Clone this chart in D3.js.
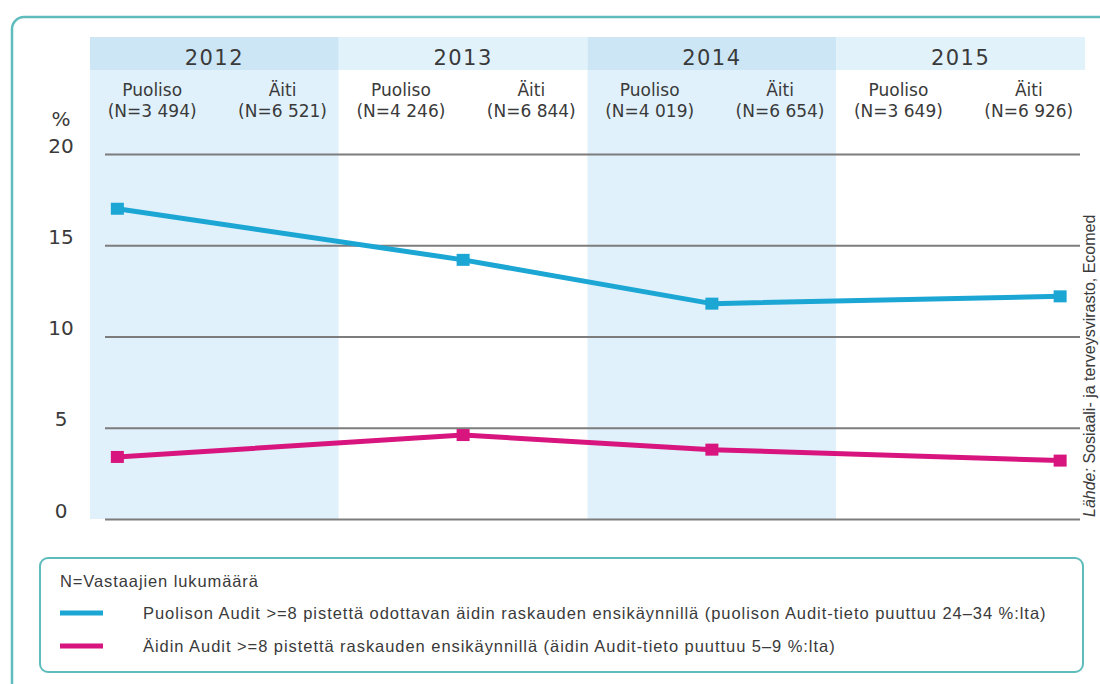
<!DOCTYPE html>
<html>
<head>
<meta charset="utf-8">
<script src="https://cdn.jsdelivr.net/npm/d3@7"></script>
<style>
  body { margin: 0; background: #ffffff; }
  svg { display: block; }
  text { font-family: "Liberation Sans", Arial, sans-serif; fill: #3a3a3a; }
  .hd { font-family: "DejaVu Sans", sans-serif; }
</style>
</head>
<body>
<svg id="chart" width="1100" height="684"></svg>
<script>
// data
const years = ["2012", "2013", "2014", "2015"];
const groups = ["Puoliso", "Äiti"];
const nPuoliso = ["3 494", "4 246", "4 019", "3 649"];
const nAiti = ["6 521", "6 844", "6 654", "6 926"];
const puoliso = [17.0, 14.2, 11.8, 12.2];
const aiti = [3.4, 4.6, 3.8, 3.2];
const yTicks = [0, 5, 10, 15, 20];
const legendNote = "N=Vastaajien lukumäärä";
const seriesNames = [
  "Puolison Audit >=8 pistettä odottavan äidin raskauden ensikäynnillä (puolison Audit-tieto puuttuu 24–34 %:lta)",
  "Äidin Audit >=8 pistettä raskauden ensikäynnillä (äidin Audit-tieto puuttuu 5–9 %:lta)"
];

// layout
const markerPos = [0.11, 0.5, 0.5, 0.9]; // where the point sits inside each year column
const colors = ["#1ba6d4", "#d8157e"];
const svg = d3.select("#chart");

const x = d3.scaleBand().domain(years).range([90, 1085]).padding(0);
const sub = d3.scaleBand().domain(groups).range([0, x.bandwidth()]);
const y = d3.scaleLinear().domain([0, 20]).range([519, 154]);

// outer frame
svg.append("rect")
  .attr("x", 12).attr("y", 17).attr("width", 1110).attr("height", 720)
  .attr("rx", 12)
  .attr("fill", "#fff").attr("stroke", "#5fbcbc").attr("stroke-width", 2.5);

// column shading
svg.selectAll(".col").data(years).join("rect")
  .attr("x", d => x(d)).attr("y", 70)
  .attr("width", x.bandwidth()).attr("height", y(0) - 70)
  .attr("fill", (d, i) => i % 2 === 0 ? "#e0f1fb" : "#ffffff");

svg.selectAll(".yearcell").data(years).join("rect")
  .attr("x", d => x(d)).attr("y", 37)
  .attr("width", x.bandwidth()).attr("height", 33)
  .attr("fill", (d, i) => i % 2 === 0 ? "#cde6f6" : "#e2f2fb");

svg.selectAll(".yearlabel").data(years).join("text")
  .attr("class", "hd")
  .attr("x", d => x(d) + x.bandwidth() / 2).attr("y", 65)
  .attr("text-anchor", "middle")
  .attr("font-size", 21).attr("letter-spacing", 1.5).attr("fill", "#333")
  .text(d => d);

// sub headers
years.forEach((yr, i) => {
  const ns = [nPuoliso[i], nAiti[i]];
  groups.forEach((g, j) => {
    const cx = x(yr) + sub(g) + sub.bandwidth() / 2 + (j === 1 ? 6 : 0);
    svg.append("text").attr("class", "hd").attr("x", cx).attr("y", 96)
      .attr("text-anchor", "middle").attr("font-size", 17)
      .text(g);
    svg.append("text").attr("class", "hd").attr("x", cx).attr("y", 117)
      .attr("text-anchor", "middle").attr("font-size", 17)
      .text("(N=" + ns[j] + ")");
  });
});

// gridlines + y labels
const yAxis = d3.axisLeft(y).tickValues(yTicks).tickSize(-975).tickPadding(0);
const ga = svg.append("g").attr("transform", "translate(1080,0)").call(yAxis);
ga.select(".domain").remove();
ga.selectAll(".tick line").attr("stroke", "#7c7c7c").attr("stroke-width", 2)
  .attr("x1", -975).attr("x2", 0);
ga.selectAll(".tick text")
  .attr("class", "hd")
  .attr("x", 61 - 1080).attr("dy", -2)
  .attr("text-anchor", "middle")
  .attr("font-size", 20).attr("fill", "#333");

svg.append("text").attr("class", "hd").attr("x", 61).attr("y", 126).attr("text-anchor", "middle")
  .attr("font-size", 20).attr("fill", "#333").text("%");

// lines
const px = (d, i) => x(years[i]) + x.bandwidth() * markerPos[i];
const line = d3.line().x((d, i) => px(d, i)).y(d => y(d));

[puoliso, aiti].forEach((s, k) => {
  svg.append("path").datum(s)
    .attr("d", line)
    .attr("fill", "none")
    .attr("stroke", colors[k])
    .attr("stroke-width", 5)
    .attr("stroke-linejoin", "round");
  svg.selectAll(".m" + k).data(s).join("rect")
    .attr("x", (d, i) => px(d, i) - 6.5)
    .attr("y", d => y(d) - 6)
    .attr("width", 13).attr("height", 12)
    .attr("fill", colors[k]);
});

// source
svg.append("text")
  .attr("transform", "translate(1095,517) rotate(-90)")
  .attr("font-size", 16).attr("fill", "#444")
  .call(t => {
    t.append("tspan").attr("font-style", "italic").text("Lähde:");
    t.append("tspan").text(" Sosiaali- ja terveysvirasto, Ecomed");
  });

// legend
svg.append("rect")
  .attr("x", 40).attr("y", 558).attr("width", 1043).attr("height", 114)
  .attr("rx", 8)
  .attr("fill", "#fff").attr("stroke", "#5fbcbc").attr("stroke-width", 2);

svg.append("text").attr("x", 60).attr("y", 587)
  .attr("font-size", 16.5).attr("letter-spacing", 0.9).text(legendNote);

seriesNames.forEach((name, k) => {
  const ly = 613 + k * 33;
  svg.append("line")
    .attr("x1", 60).attr("x2", 103).attr("y1", ly).attr("y2", ly)
    .attr("stroke", colors[k]).attr("stroke-width", 5);
  svg.append("text").attr("x", 143).attr("y", ly + 6)
    .attr("font-size", 16.5).attr("letter-spacing", 0.95).text(name);
});
</script>
</body>
</html>
